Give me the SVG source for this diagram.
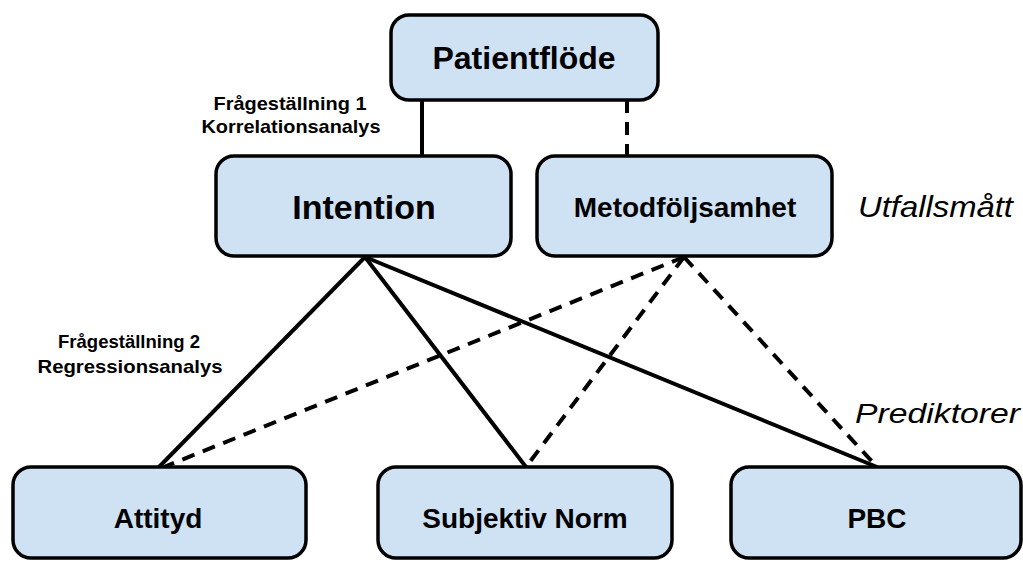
<svg xmlns="http://www.w3.org/2000/svg" width="1023" height="562" viewBox="0 0 1023 562">
<style>
.box{fill:#cfe2f3;stroke:#000;stroke-width:3.5}
.t{font-family:"Liberation Sans",Arial,sans-serif;font-weight:bold;text-anchor:middle;fill:#000}
.lbl{font-family:"Liberation Sans",Arial,sans-serif;font-weight:bold;text-anchor:middle;fill:#000;font-size:19px}
.it{font-family:"Liberation Sans",Arial,sans-serif;font-style:italic;fill:#000}
.s{stroke:#000;stroke-width:4;fill:none}
.d{stroke:#000;stroke-width:4;fill:none;stroke-dasharray:13 9}
</style>
<rect width="1023" height="562" fill="#fff"/>
<g id="connectors">
<line class="s" x1="422" y1="100" x2="422" y2="155"/>
<line class="d" x1="627" y1="100" x2="627" y2="155"/>
<line class="s" x1="365" y1="257" x2="159" y2="467"/>
<line class="s" x1="365" y1="257" x2="526" y2="467"/>
<line class="s" x1="365" y1="257" x2="877" y2="467"/>
<line class="d" x1="684" y1="257" x2="164" y2="467"/>
<line class="d" x1="684" y1="257" x2="526" y2="467"/>
<line class="d" x1="684" y1="257" x2="877" y2="467"/>
</g>
<g id="patientflode">
<rect class="box" x="391" y="15" width="267" height="85" rx="18"/>
<text class="t" x="524" y="69" font-size="32">Patientflöde</text>
</g>
<g id="intention">
<rect class="box" x="216" y="156" width="295" height="100" rx="18"/>
<text class="t" x="364" y="219" font-size="34">Intention</text>
</g>
<g id="metodfoljsamhet">
<rect class="box" x="537" y="156" width="295" height="100" rx="18"/>
<text class="t" x="685" y="217" font-size="28">Metodföljsamhet</text>
</g>
<g id="attityd">
<rect class="box" x="13" y="467" width="293" height="91" rx="18"/>
<text class="t" x="158" y="528" font-size="28">Attityd</text>
</g>
<g id="subjektiv-norm">
<rect class="box" x="378" y="467" width="294" height="91" rx="18"/>
<text class="t" x="525" y="528" font-size="28">Subjektiv Norm</text>
</g>
<g id="pbc">
<rect class="box" x="731" y="467" width="290" height="91" rx="18"/>
<text class="t" x="877" y="528" font-size="28">PBC</text>
</g>
<g id="labels">
<text class="lbl" x="290" y="110" textLength="153" lengthAdjust="spacingAndGlyphs">Frågeställning 1</text>
<text class="lbl" x="291" y="133" textLength="179" lengthAdjust="spacingAndGlyphs">Korrelationsanalys</text>
<text class="lbl" x="129" y="348" textLength="142" lengthAdjust="spacingAndGlyphs">Frågeställning 2</text>
<text class="lbl" x="130" y="373" textLength="185" lengthAdjust="spacingAndGlyphs">Regressionsanalys</text>
<text class="it" x="858" y="217" font-size="30" textLength="155" lengthAdjust="spacingAndGlyphs">Utfallsmått</text>
<text class="it" x="855" y="423" font-size="28" textLength="165" lengthAdjust="spacingAndGlyphs">Prediktorer</text>
</g>
</svg>
